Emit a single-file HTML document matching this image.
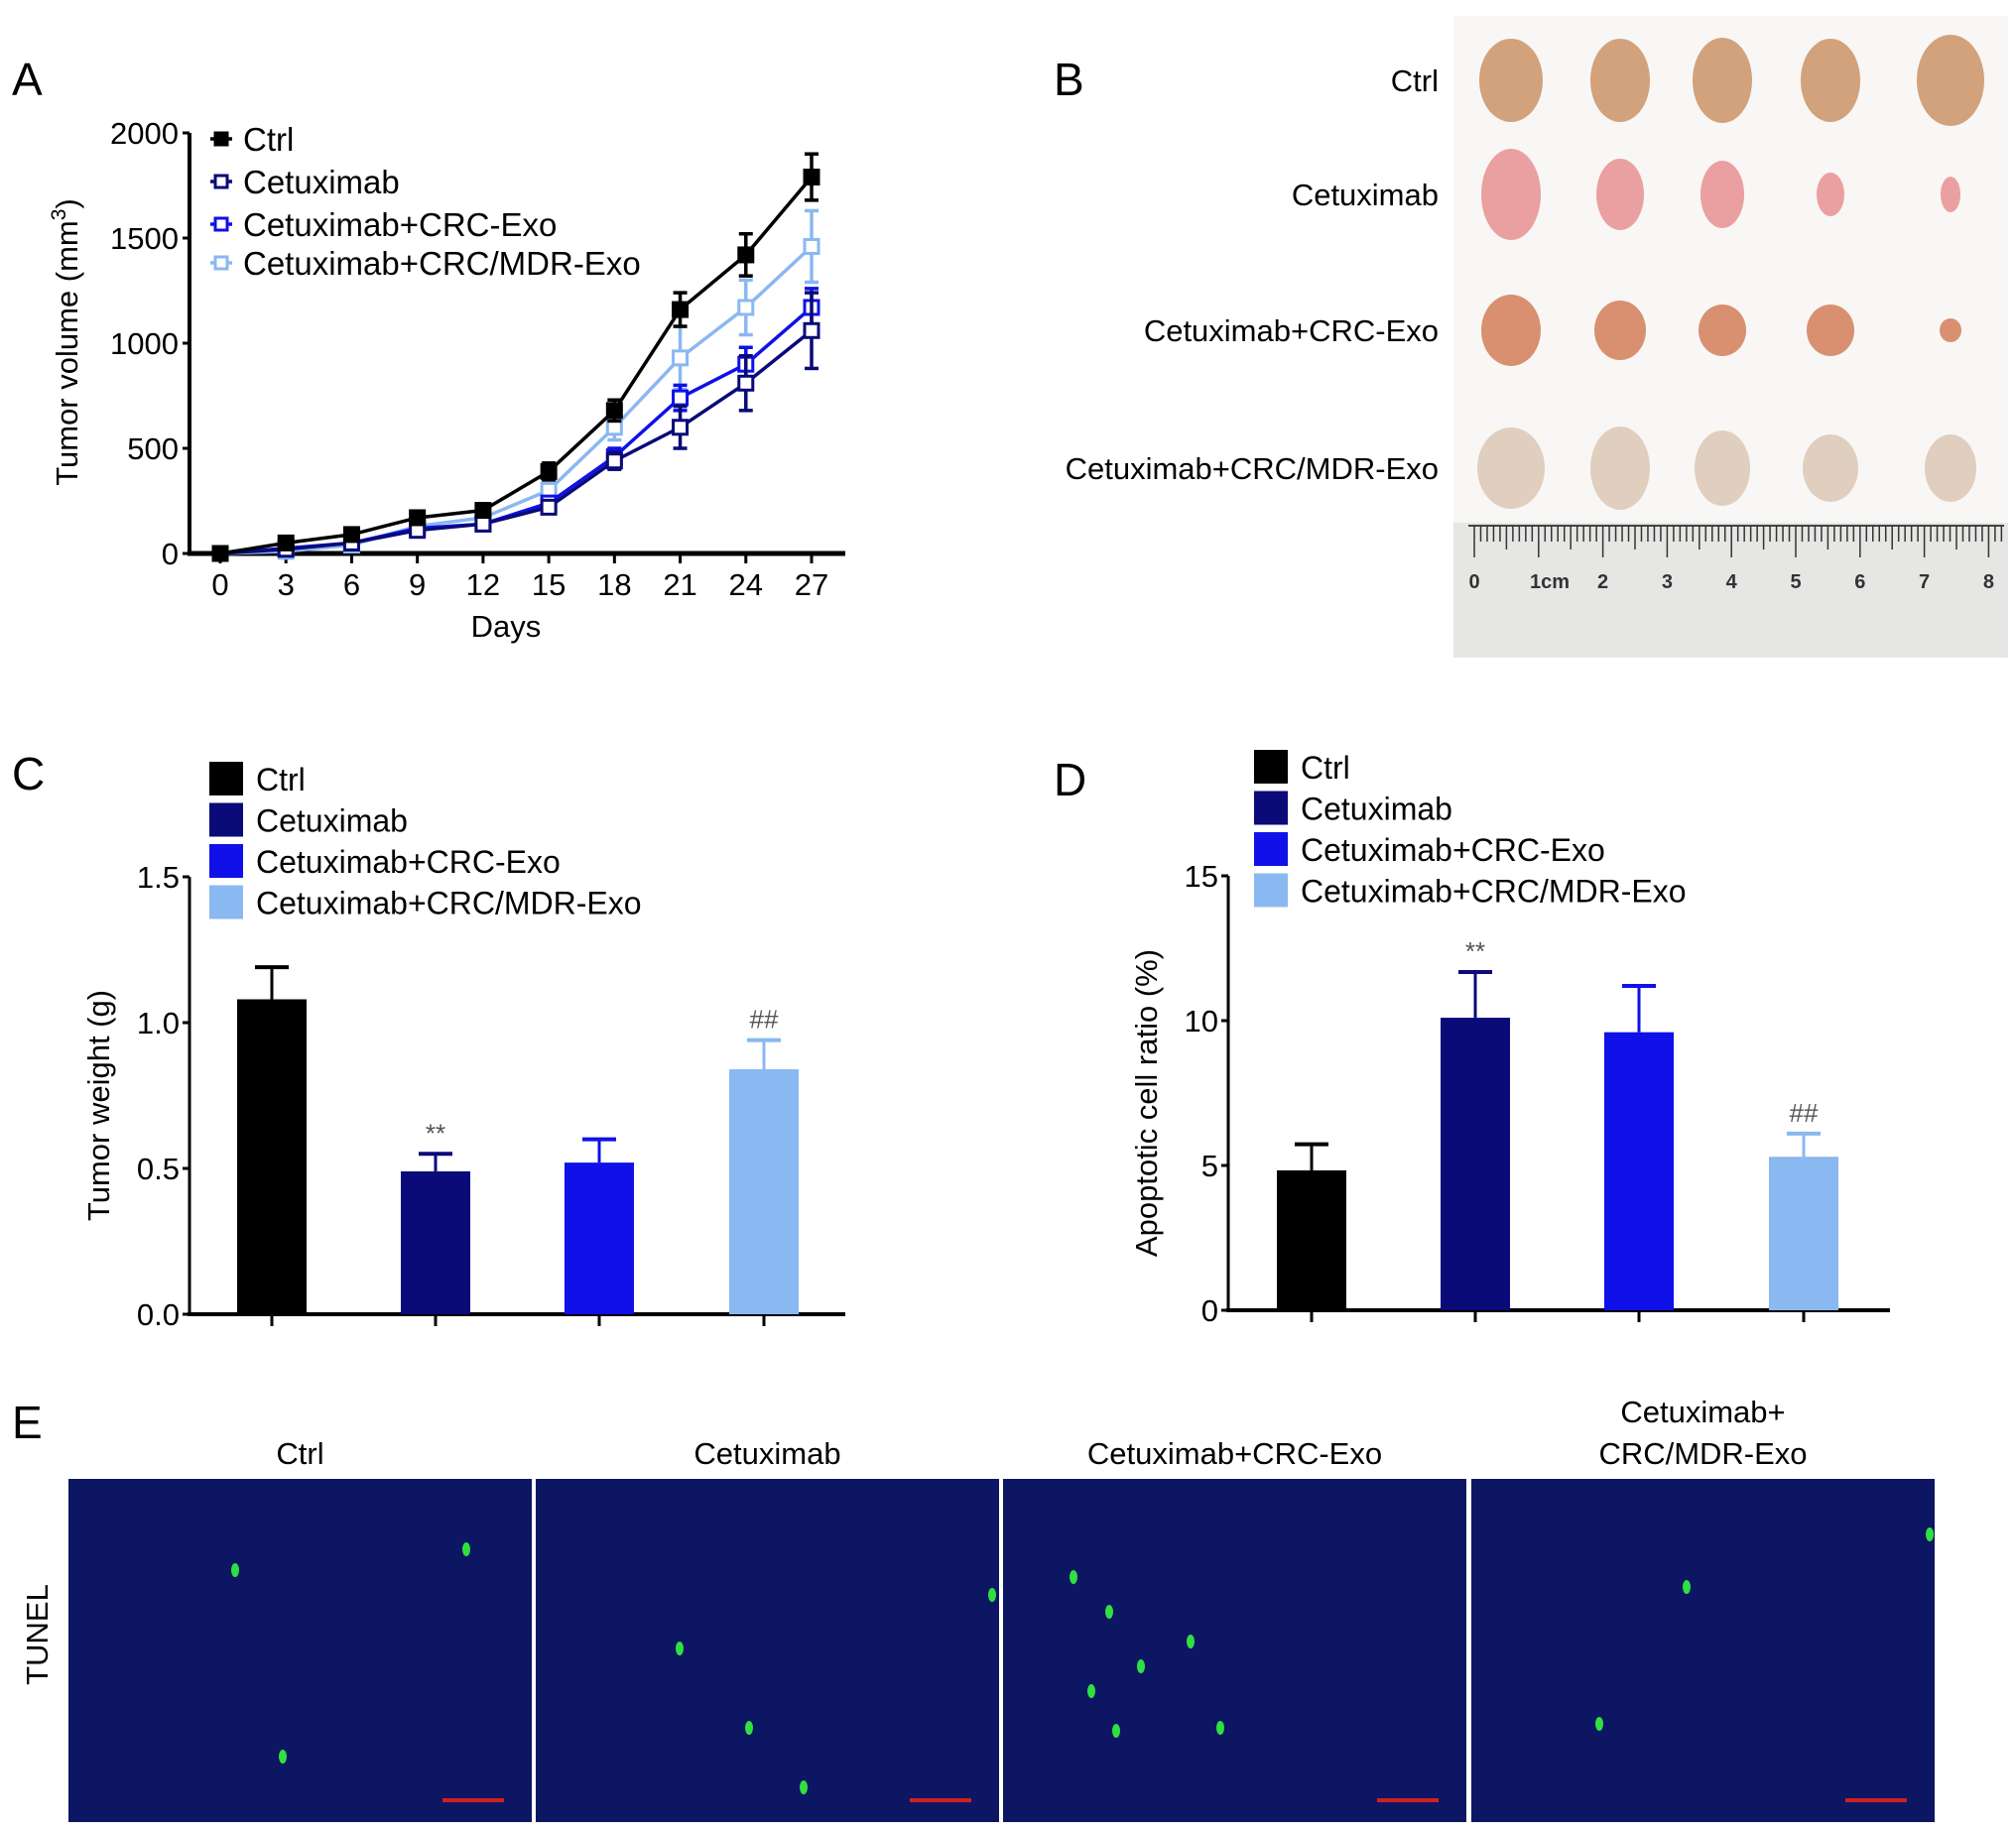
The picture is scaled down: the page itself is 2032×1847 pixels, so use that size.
<!DOCTYPE html>
<html><head><meta charset="utf-8"><style>
html,body{margin:0;padding:0;background:#fff}
svg{display:block;font-family:"Liberation Sans",Arial,sans-serif}
</style></head><body>
<svg id="fig" width="2032" height="1847" viewBox="0 0 2032 1847" xmlns="http://www.w3.org/2000/svg">
<rect width="2032" height="1847" fill="#fff"/>
<text x="12" y="96" font-size="46">A</text>
<text x="1062" y="96" font-size="46">B</text>
<text x="12" y="796" font-size="46">C</text>
<text x="1062" y="802" font-size="46">D</text>
<text x="12" y="1450" font-size="46">E</text>
<g id="gA"></g>
<g id="gB"></g>
<g id="gC"></g>
<g id="gD"></g>
<g id="gE"></g>
</svg>
<script>
const NS="http://www.w3.org/2000/svg";
function el(p,t,a,txt){const e=document.createElementNS(NS,t);for(const k in a)e.setAttribute(k,a[k]);if(txt!==undefined)e.textContent=txt;p.appendChild(e);return e;}

// ---- Panel A data ----
const days=[0,3,6,9,12,15,18,21,24,27];
const groups=["Ctrl","Cetuximab","Cetuximab+CRC-Exo","Cetuximab+CRC/MDR-Exo"];
const colors=["#000000","#0a0a78","#1010e8","#8ab8f0"];
const volCtrl=[0,50,90,170,205,390,680,1160,1420,1790];
const volCet=[0,20,50,110,140,220,440,600,810,1060];
const volCrc=[0,25,50,120,140,240,460,740,900,1170];
const volMdr=[0,10,40,130,170,300,600,930,1170,1460];
const errCtrl=[0,20,15,25,25,40,50,80,100,110];
const errCet=[0,15,15,20,20,30,40,100,130,180];
const errCrc=[0,15,15,20,20,30,40,60,80,90];
const errMdr=[0,15,15,20,20,35,60,150,130,170];
const yTicksA=[0,500,1000,1500,2000];

(function(){
 const g=document.getElementById('gA');
 const x=d=>222+(d/27)*(818-222), y=v=>558-(v/2000)*(558-134);
 const series=[volCtrl,volCet,volCrc,volMdr], errs=[errCtrl,errCet,errCrc,errMdr];
 const ya=el(g,'line',{x1:191,y1:134,x2:191,y2:560,stroke:'#000','stroke-width':4});
 
 const xa=el(g,'line',{x1:189,y1:558,x2:852,y2:558,stroke:'#000','stroke-width':5});
 
 yTicksA.forEach(v=>{el(g,'line',{x1:184,x2:191,y1:y(v),y2:y(v),stroke:'#000','stroke-width':3});
  const t=el(g,'text',{x:180,y:y(v)+11,'font-size':31,'text-anchor':'end'},v);
  });
 days.forEach(d=>{el(g,'line',{x1:x(d),x2:x(d),y1:558,y2:568,stroke:'#000','stroke-width':3});
  const t=el(g,'text',{x:x(d),y:600,'font-size':31,'text-anchor':'middle'},d);
  });
 const xt=el(g,'text',{x:510,y:642,'font-size':31,'text-anchor':'middle'},'Days');
 
 const yt=el(g,'text',{x:0,y:0,'font-size':31,'text-anchor':'middle',transform:'translate(78,345) rotate(-90)'});
 
 yt.innerHTML='Tumor volume (mm<tspan dy="-12" font-size="21">3</tspan><tspan dy="12">)</tspan>';
 [3,2,1,0].forEach(si=>{
  const s=series[si],c=colors[si];
  const pl=el(g,'polyline',{points:s.map((v,i)=>x(days[i])+','+y(v)).join(' '),fill:'none',stroke:c,'stroke-width':3.5});
  
  s.forEach((v,i)=>{const X=x(days[i]);
   if(errs[si][i]>0){el(g,'line',{x1:X,x2:X,y1:y(v-errs[si][i]),y2:y(v+errs[si][i]),stroke:c,'stroke-width':3.5});
    el(g,'line',{x1:X-7,x2:X+7,y1:y(v+errs[si][i]),y2:y(v+errs[si][i]),stroke:c,'stroke-width':3.5});
    el(g,'line',{x1:X-7,x2:X+7,y1:y(v-errs[si][i]),y2:y(v-errs[si][i]),stroke:c,'stroke-width':3.5});}
   const m=el(g,'rect',{x:X-7,y:y(v)-7,width:14,height:14,fill:si==0?'#000':'#fff',stroke:c,'stroke-width':3});
   });
 });
 const ly=[140,183,226,265];
 groups.forEach((n,i)=>{el(g,'line',{x1:212,x2:234,y1:ly[i],y2:ly[i],stroke:colors[i],'stroke-width':3.5});
  el(g,'rect',{x:217,y:ly[i]-6,width:12,height:12,fill:i==0?'#000':'#fff',stroke:colors[i],'stroke-width':3});
  const t=el(g,'text',{x:245,y:ly[i]+12,'font-size':33},n);
  });
})();

function barChart(gid,vals,errs,ticks,tickFmt,ymax,ax,y0,ytop,xend,centers,title,titleX,legY,legX,marks){
 const g=document.getElementById(gid);
 const y=v=>y0-(v/ymax)*(y0-ytop);
 const ya=el(g,'line',{x1:ax,y1:ytop,x2:ax,y2:y0+2,stroke:'#000','stroke-width':3});
 
 const xa=el(g,'line',{x1:ax-2,y1:y0,x2:xend,y2:y0,stroke:'#000','stroke-width':4});
 
 ticks.forEach(v=>{el(g,'line',{x1:ax-7,x2:ax,y1:y(v),y2:y(v),stroke:'#000','stroke-width':3});
  const t=el(g,'text',{x:ax-10,y:y(v)+11,'font-size':31,'text-anchor':'end'},tickFmt(v));
  });
 const yt=el(g,'text',{x:0,y:0,'font-size':31,'text-anchor':'middle',transform:'translate('+titleX+','+((y0+ytop)/2+10)+') rotate(-90)'},title);
 
 vals.forEach((v,i)=>{const c=centers[i];
  el(g,'line',{x1:c,x2:c,y1:y0,y2:y0+12,stroke:'#000','stroke-width':3});
  const top=y(v+errs[i]);
  el(g,'line',{x1:c,x2:c,y1:y(v),y2:top,stroke:colors[i],'stroke-width':3});
  el(g,'line',{x1:c-17,x2:c+17,y1:top,y2:top,stroke:colors[i],'stroke-width':4});
  const b=el(g,'rect',{x:c-35,y:y(v),width:70,height:y0-y(v),fill:colors[i]});
  
  if(marks[i]){const m=el(g,'text',{x:c,y:top-12,'font-size':26,'text-anchor':'middle',fill:'#555'},marks[i]);
   }
 });
 groups.forEach((n,i)=>{const yy=legY+i*41.5;
  el(g,'rect',{x:legX,y:yy-17,width:34,height:34,fill:colors[i]});
  const t=el(g,'text',{x:legX+47,y:yy+12,'font-size':32},n);
  });
}
const weightVals=[1.08,0.49,0.52,0.84];
const weightErrs=[0.11,0.06,0.08,0.10];
const weightTicks=[0,0.5,1.0,1.5];
const apopVals=[4.83,10.1,9.6,5.3];
const apopErrs=[0.9,1.58,1.6,0.8];
const apopTicks=[0,5,10,15];
barChart('gC',weightVals,weightErrs,weightTicks,v=>v.toFixed(1),1.5,191,1325,884,852,[274,439,604,770],'Tumor weight (g)',110,785,211,['','**','','##']);
barChart('gD',apopVals,apopErrs,apopTicks,v=>v,15,1238,1321,883,1905,[1322,1487,1652,1818],'Apoptotic cell ratio (%)',1166,773,1264,['','**','','##']);

(function(){
 const g=document.getElementById('gB');
 el(g,'rect',{x:1465,y:16,width:559,height:516,fill:'#f8f7f5'});
 el(g,'rect',{x:1465,y:527,width:559,height:136,fill:'#e6e6e4'});
 const labels=["Ctrl","Cetuximab","Cetuximab+CRC-Exo","Cetuximab+CRC/MDR-Exo"], ly=[81,196,333,472];
 labels.forEach((n,i)=>{const t=el(g,'text',{x:1450,y:ly[i]+11,'font-size':31,'text-anchor':'end'},n);
  });
 const cx=[1523,1633,1736,1845,1966];
 const rows=[[[32,42],[30,42],[30,43],[30,42],[34,46]],[[30,46],[24,36],[22,34],[14,22],[10,18]],[[30,36],[26,30],[24,26],[24,26],[11,12]],[[34,41],[30,42],[28,38],[28,34],[26,34]]];
 const fills=['#d2a27c','#eaa0a0','#d89070','#e0cfbe'];
 rows.forEach((r,i)=>r.forEach((s,j)=>{const e=el(g,'ellipse',{cx:cx[j],cy:ly[i],rx:s[0],ry:s[1],fill:fills[i]});
  }));
 el(g,'line',{x1:1480,x2:2020,y1:530,y2:530,stroke:'#444','stroke-width':2});
 for(let k=0;k<=82;k++){const X=1486+k*6.48;el(g,'line',{x1:X,x2:X,y1:530,y2:530+(k%10==0?32:(k%5==0?24:16)),stroke:'#333','stroke-width':1.5});}
 ['0','1cm','2','3','4','5','6','7','8'].forEach((n,k)=>{const t=el(g,'text',{x:1486+k*64.8,y:593,'font-size':20,'font-weight':'bold','text-anchor':k==1?'start':'middle',fill:'#333'},n);
  if(k==1)t.setAttribute('x',1542);
  });
})();

(function(){
 const g=document.getElementById('gE');
 const px=[69,540,1011,1483], w=467;
 const titles=[["Ctrl"],["Cetuximab"],["Cetuximab+CRC-Exo"],["Cetuximab+","CRC/MDR-Exo"]];
 px.forEach((X,i)=>{const r=el(g,'rect',{x:X,y:1491,width:w,height:346,fill:'#0d1662'});
  
  el(g,'line',{x1:X+w-90,x2:X+w-28,y1:1815,y2:1815,stroke:'#d02020','stroke-width':4});
  const tl=titles[i];tl.forEach((s,k)=>{const t=el(g,'text',{x:X+w/2,y:(tl.length==2?1434:1476)+k*42,'font-size':31,'text-anchor':'middle'},s);
   });
 });
 const dots=[[237,1583],[470,1562],[685,1662],[755,1742],[810,1802],[1000,1608],[1082,1590],[1118,1625],[1100,1705],[1125,1745],[1230,1742],[1700,1600],[1612,1738],[1945,1547],[285,1771],[1200,1655],[1150,1680]];
 dots.forEach(d=>{const c=el(g,'ellipse',{cx:d[0],cy:d[1],rx:4,ry:7,fill:'#30e040'});
  });
 const t=el(g,'text',{x:0,y:0,'font-size':31,'text-anchor':'middle',transform:'translate(48,1648) rotate(-90)'},'TUNEL');
 
})();
</script>
</body></html>
